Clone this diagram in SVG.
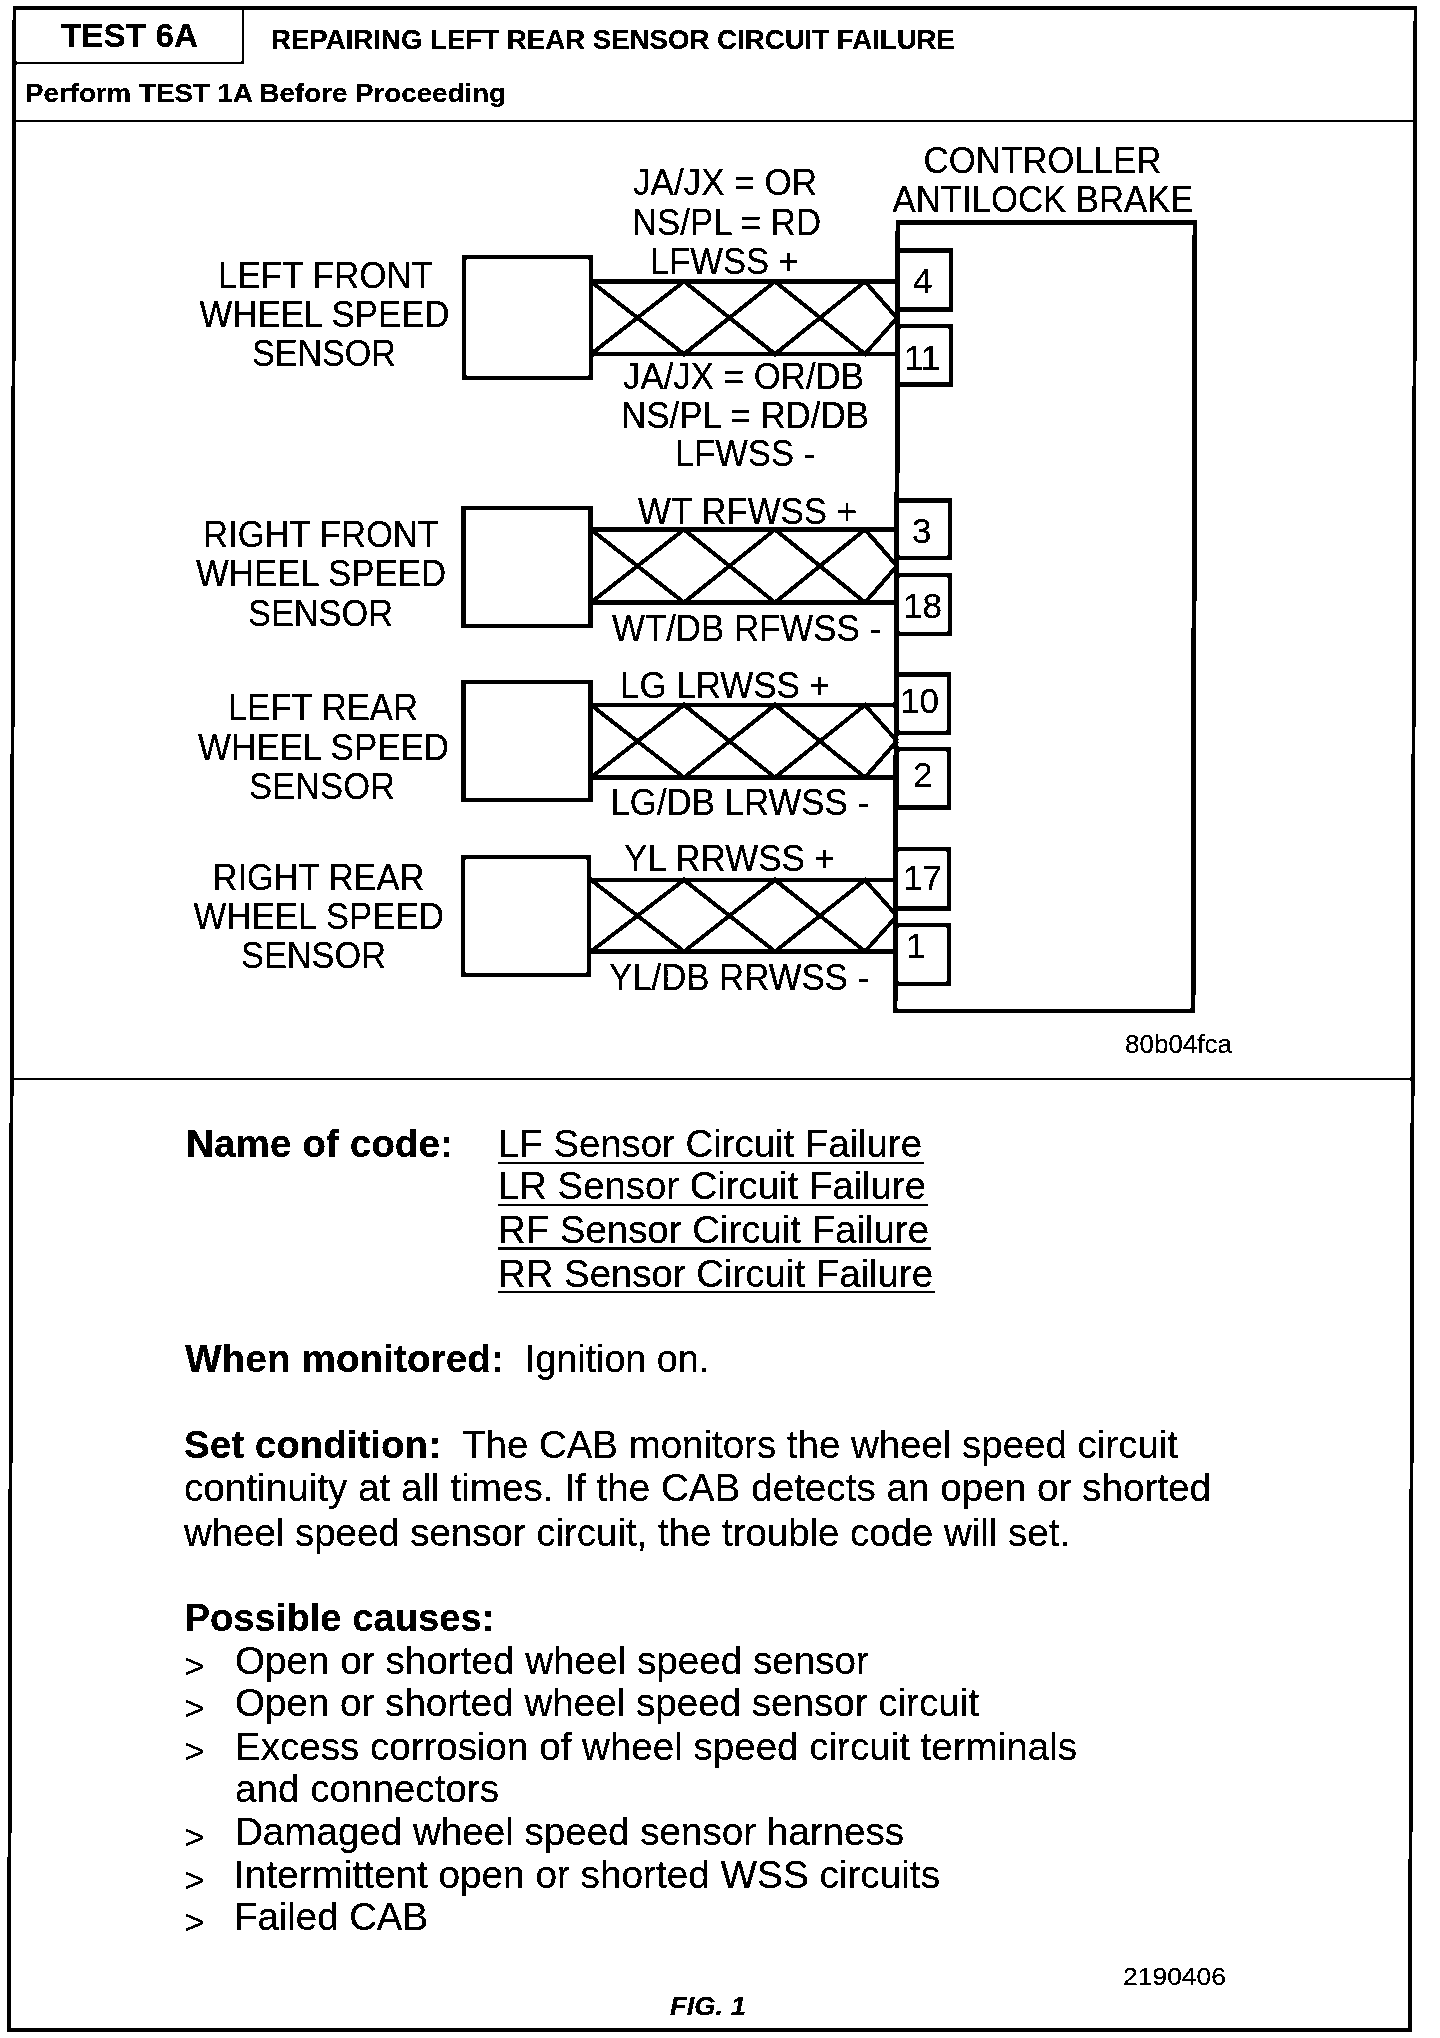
<svg xmlns="http://www.w3.org/2000/svg" width="1440" height="2038" viewBox="0 0 1440 2038">
<style>
text{font-family:"Liberation Sans",Arial,sans-serif;fill:#000}
.l{font-size:36px}
.p{font-size:35px;text-anchor:start}
.b{font-size:39px}
.h{font-weight:bold}
.w{fill:none;stroke:#000;stroke-width:4.4}
.t{fill:none;stroke:#000;stroke-width:3.8}
.u{stroke:#000;stroke-width:2;fill:none}
.f{fill:none;stroke:#000;stroke-width:2.6}
.box{fill:#fff;stroke:#000;stroke-width:4.6}
</style>
<defs>
<filter id="bw" filterUnits="userSpaceOnUse" x="0" y="0" width="1440" height="2038" color-interpolation-filters="sRGB">
<feComponentTransfer><feFuncR type="discrete" tableValues="0 0 1"/><feFuncG type="discrete" tableValues="0 0 1"/><feFuncB type="discrete" tableValues="0 0 1"/></feComponentTransfer>
</filter>
</defs>
<g filter="url(#bw)">
<rect width="1440" height="2038" fill="#fff"/>
<g id="frame">
<path class="f" style="stroke-width:3.6" d="M14.5,8 H1415.5 L1410,2030 H9 Z"/>
<path class="f" d="M14,63 H243 V8 M14,121 H1414 M12,1079 H1412"/>
<text class="h" x="61" y="47" font-size="34" textLength="137" lengthAdjust="spacingAndGlyphs">TEST 6A</text>
<text class="h" x="271" y="49" font-size="28" textLength="684" lengthAdjust="spacingAndGlyphs">REPAIRING LEFT REAR SENSOR CIRCUIT FAILURE</text>
<text class="h" x="25" y="102" font-size="26" textLength="481" lengthAdjust="spacingAndGlyphs">Perform TEST 1A Before Proceeding</text>
</g>
<g id="connectors">
<g id="pair-lf">
<path class="w" d="M591,281.5 H897 M591,354 H897"/>
<path class="t" d="M591,281.5 L684,354 L775,281.5 L865,354 L897,318 M591,354 L684,281.5 L775,354 L865,281.5 L897,318"/>
</g>
<g id="pair-rf">
<path class="w" d="M591,529.5 H897 M591,602.5 H897"/>
<path class="t" d="M591,529.5 L684,602.5 L775,529.5 L865,602.5 L897,566 M591,602.5 L684,529.5 L775,602.5 L865,529.5 L897,566"/>
</g>
<g id="pair-lr">
<path class="w" d="M591,705 H897 M591,777.5 H897"/>
<path class="t" d="M591,705 L684,777.5 L775,705 L865,777.5 L897,741 M591,777.5 L684,705 L775,777.5 L865,705 L897,741"/>
</g>
<g id="pair-rr">
<path class="w" d="M591,880 H897 M591,951.5 H897"/>
<path class="t" d="M591,880 L684,951.5 L775,880 L865,951.5 L897,916 M591,951.5 L684,880 L775,951.5 L865,880 L897,916"/>
</g>
</g>
<g id="sensor-lf">
<rect class="box" x="464" y="257" width="127" height="121"/>
<text class="l" x="218" y="288" textLength="215" lengthAdjust="spacingAndGlyphs">LEFT FRONT</text>
<text class="l" x="199.5" y="326.5" textLength="250" lengthAdjust="spacingAndGlyphs">WHEEL SPEED</text>
<text class="l" x="252" y="366" textLength="144" lengthAdjust="spacingAndGlyphs">SENSOR</text>
</g>
<g id="sensor-rf">
<rect class="box" x="463.5" y="508" width="127" height="118"/>
<text class="l" x="203" y="547" textLength="236" lengthAdjust="spacingAndGlyphs">RIGHT FRONT</text>
<text class="l" x="196" y="586" textLength="250" lengthAdjust="spacingAndGlyphs">WHEEL SPEED</text>
<text class="l" x="248" y="625.5" textLength="145" lengthAdjust="spacingAndGlyphs">SENSOR</text>
</g>
<g id="sensor-lr">
<rect class="box" x="463.5" y="682" width="127" height="118"/>
<text class="l" x="228" y="720" textLength="190" lengthAdjust="spacingAndGlyphs">LEFT REAR</text>
<text class="l" x="198" y="760" textLength="251" lengthAdjust="spacingAndGlyphs">WHEEL SPEED</text>
<text class="l" x="249" y="798.5" textLength="146" lengthAdjust="spacingAndGlyphs">SENSOR</text>
</g>
<g id="sensor-rr">
<rect class="box" x="463" y="857" width="126" height="118"/>
<text class="l" x="212.5" y="889.5" textLength="212" lengthAdjust="spacingAndGlyphs">RIGHT REAR</text>
<text class="l" x="193.5" y="929" textLength="250.5" lengthAdjust="spacingAndGlyphs">WHEEL SPEED</text>
<text class="l" x="241" y="968" textLength="145" lengthAdjust="spacingAndGlyphs">SENSOR</text>
</g>
<g id="controller">
<path class="box" d="M898,222.5 H1195 L1193,1011 H895 Z" style="fill:none"/>
<text class="l" x="923.5" y="172.5" textLength="238" lengthAdjust="spacingAndGlyphs">CONTROLLER</text>
<text class="l" x="892.5" y="212" textLength="301" lengthAdjust="spacingAndGlyphs">ANTILOCK BRAKE</text>
<g id="pin-4"><rect class="box" x="898" y="250.5" width="53" height="59"/><text class="p" x="913" y="293">4</text></g>
<g id="pin-11"><rect class="box" x="898" y="326" width="53" height="58.5"/><text class="p" x="904" y="370">11</text></g>
<g id="pin-3"><rect class="box" x="897" y="500.5" width="53" height="57.5"/><text class="p" x="912" y="543">3</text></g>
<g id="pin-18"><rect class="box" x="897" y="575" width="53" height="59"/><text class="p" x="903" y="617.5">18</text></g>
<g id="pin-10"><rect class="box" x="897" y="674.5" width="52" height="58.5"/><text class="p" x="900" y="713">10</text></g>
<g id="pin-2"><rect class="box" x="897" y="749" width="52" height="58.5"/><text class="p" x="913" y="787">2</text></g>
<g id="pin-17"><rect class="box" x="896" y="849" width="53" height="59.5"/><text class="p" x="903" y="890">17</text></g>
<g id="pin-1"><rect class="box" x="896" y="925" width="53" height="59"/><text class="p" x="906" y="958">1</text></g>
</g>
<g id="wire-labels">
<text class="l" x="633" y="195" textLength="184" lengthAdjust="spacingAndGlyphs">JA/JX = OR</text>
<text class="l" x="632" y="235" textLength="189" lengthAdjust="spacingAndGlyphs">NS/PL = RD</text>
<text class="l" x="650" y="274" textLength="149" lengthAdjust="spacingAndGlyphs">LFWSS +</text>
<text class="l" x="623" y="389" textLength="241" lengthAdjust="spacingAndGlyphs">JA/JX = OR/DB</text>
<text class="l" x="621" y="428" textLength="248" lengthAdjust="spacingAndGlyphs">NS/PL = RD/DB</text>
<text class="l" x="675" y="466" textLength="140" lengthAdjust="spacingAndGlyphs">LFWSS -</text>
<text class="l" x="638" y="524" textLength="219" lengthAdjust="spacingAndGlyphs">WT RFWSS +</text>
<text class="l" x="612" y="641" textLength="269" lengthAdjust="spacingAndGlyphs">WT/DB RFWSS -</text>
<text class="l" x="620" y="697.5" textLength="210" lengthAdjust="spacingAndGlyphs">LG LRWSS +</text>
<text class="l" x="610.5" y="815" textLength="258.5" lengthAdjust="spacingAndGlyphs">LG/DB LRWSS -</text>
<text class="l" x="624" y="870.5" textLength="211" lengthAdjust="spacingAndGlyphs">YL RRWSS +</text>
<text class="l" x="609" y="990" textLength="260" lengthAdjust="spacingAndGlyphs">YL/DB RRWSS -</text>
<text x="1125" y="1053" font-size="26" textLength="107" lengthAdjust="spacingAndGlyphs">80b04fca</text>
</g>
<g id="description">
<text class="b h" x="186" y="1157" textLength="267" lengthAdjust="spacingAndGlyphs">Name of code:</text>
<text class="b" x="498" y="1157" textLength="424" lengthAdjust="spacingAndGlyphs">LF Sensor Circuit Failure</text>
<text class="b" x="498" y="1199" textLength="428" lengthAdjust="spacingAndGlyphs">LR Sensor Circuit Failure</text>
<text class="b" x="498" y="1242.5" textLength="431" lengthAdjust="spacingAndGlyphs">RF Sensor Circuit Failure</text>
<text class="b" x="498" y="1286.5" textLength="435" lengthAdjust="spacingAndGlyphs">RR Sensor Circuit Failure</text>
<path class="u" d="M498,1163 H924 M498,1205 H928 M498,1248.5 H931 M498,1292 H935"/>
<text class="b h" x="185" y="1372" textLength="319" lengthAdjust="spacingAndGlyphs">When monitored:</text>
<text class="b" x="525" y="1372" textLength="184" lengthAdjust="spacingAndGlyphs">Ignition on.</text>
<text class="b h" x="184" y="1457.5" textLength="257" lengthAdjust="spacingAndGlyphs">Set condition:</text>
<text class="b" x="462" y="1457.5" textLength="716" lengthAdjust="spacingAndGlyphs">The CAB monitors the wheel speed circuit</text>
<text class="b" x="184" y="1501" textLength="1027" lengthAdjust="spacingAndGlyphs">continuity at all times. If the CAB detects an open or shorted</text>
<text class="b" x="184" y="1545.5" textLength="886" lengthAdjust="spacingAndGlyphs">wheel speed sensor circuit, the trouble code will set.</text>
<text class="b h" x="184.5" y="1630.5" textLength="310" lengthAdjust="spacingAndGlyphs">Possible causes:</text>
<text x="184" y="1678" font-size="35">&gt;</text>
<text class="b" x="235" y="1674" textLength="634" lengthAdjust="spacingAndGlyphs">Open or shorted wheel speed sensor</text>
<text x="184" y="1720" font-size="35">&gt;</text>
<text class="b" x="235" y="1716" textLength="744" lengthAdjust="spacingAndGlyphs">Open or shorted wheel speed sensor circuit</text>
<text x="184" y="1763" font-size="35">&gt;</text>
<text class="b" x="235" y="1759.5" textLength="842" lengthAdjust="spacingAndGlyphs">Excess corrosion of wheel speed circuit terminals</text>
<text class="b" x="235" y="1802" textLength="264" lengthAdjust="spacingAndGlyphs">and connectors</text>
<text x="184" y="1849" font-size="35">&gt;</text>
<text class="b" x="235" y="1845" textLength="669" lengthAdjust="spacingAndGlyphs">Damaged wheel speed sensor harness</text>
<text x="184" y="1892" font-size="35">&gt;</text>
<text class="b" x="234" y="1888" textLength="706" lengthAdjust="spacingAndGlyphs">Intermittent open or shorted WSS circuits</text>
<text x="184" y="1934" font-size="35">&gt;</text>
<text class="b" x="234" y="1930" textLength="194" lengthAdjust="spacingAndGlyphs">Failed CAB</text>
<text x="1123" y="1985" font-size="24" textLength="103" lengthAdjust="spacingAndGlyphs">2190406</text>
<text class="h" x="670" y="2015" font-size="26" font-style="italic" textLength="76" lengthAdjust="spacingAndGlyphs">FIG. 1</text>
</g>
</g>
</svg>
